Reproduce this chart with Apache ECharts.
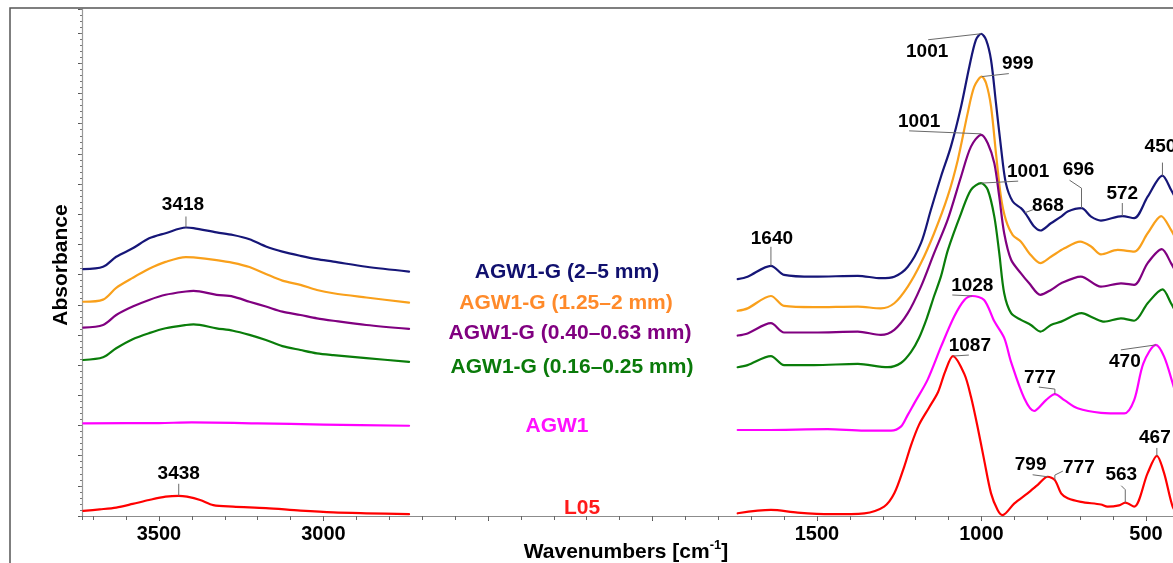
<!DOCTYPE html>
<html><head><meta charset="utf-8">
<script src="https://cdn.jsdelivr.net/npm/echarts@6/dist/echarts.min.js"></script>
<style>html,body{margin:0;padding:0;background:#fff}#c{width:1173px;height:563px}</style>
</head><body><div id="c"></div>
<script>
// ---------- DATA ----------
// Wavenumber grid used for the high-wavenumber region (cm-1)
const leftWn = [3730,3670,3630,3580,3530,3480,3418,3395,3325,3275,3225,3175,3125,3070,3020,2970,2870,2740];
const blueLeft   = [0.818,0.826,0.859,0.887,0.920,0.937,0.956,0.954,0.940,0.931,0.917,0.893,0.876,0.862,0.851,0.843,0.826,0.810];
const orangeLeft = [0.710,0.717,0.756,0.789,0.819,0.842,0.858,0.857,0.848,0.839,0.825,0.802,0.780,0.766,0.749,0.738,0.724,0.707];
const purpleLeft = [0.624,0.633,0.666,0.694,0.716,0.733,0.744,0.746,0.733,0.727,0.710,0.694,0.677,0.666,0.655,0.647,0.633,0.620];
const greenLeft  = [0.517,0.526,0.556,0.586,0.606,0.622,0.633,0.635,0.622,0.614,0.600,0.583,0.563,0.550,0.539,0.533,0.523,0.511];
const magentaLeft = [[3730,0.307],[3500,0.308],[3400,0.310],[3200,0.307],[3000,0.303],[2740,0.299]];
const redLeftWn  = [3730,3680,3630,3580,3530,3480,3440,3415,3375,3335,3275,3175,3070,2970,2870,2740];
const redLeftAbs = [0.017,0.022,0.028,0.040,0.053,0.064,0.067,0.064,0.053,0.036,0.031,0.026,0.018,0.012,0.009,0.006];

// Fingerprint region [wavenumber, absorbance (offset)]
const blueRight = [[1741,0.785],[1711,0.793],[1640,0.829],[1600,0.799],[1509,0.793],[1376,0.796],[1306,0.788],[1265,0.793],[1224,0.826],[1184,0.904],[1154,1.014],[1123,1.125],[1093,1.224],[1062,1.357],[1037,1.489],[1017,1.578],[1001,1.598],[986,1.578],[971,1.511],[956,1.368],[941,1.224],[926,1.103],[905,1.042],[880,1.020],[868,1.005],[860,0.992],[840,0.959],[821,0.946],[789,0.970],[758,0.992],[738,1.009],[696,1.020],[667,0.992],[637,0.979],[572,0.994],[536,0.987],[495,1.058],[450,1.128],[424,1.081],[400,1.031]];
const orangeRight = [[1741,0.680],[1711,0.688],[1640,0.729],[1600,0.696],[1509,0.692],[1376,0.694],[1306,0.688],[1265,0.705],[1224,0.760],[1184,0.838],[1144,0.937],[1103,1.058],[1072,1.180],[1042,1.335],[1022,1.423],[999,1.456],[986,1.434],[971,1.357],[956,1.202],[941,1.058],[926,0.981],[905,0.931],[880,0.909],[855,0.871],[821,0.838],[789,0.859],[748,0.887],[700,0.909],[667,0.893],[637,0.867],[586,0.882],[536,0.876],[495,0.937],[454,0.994],[424,0.948],[400,0.898]];
const purpleRight = [[1741,0.598],[1711,0.605],[1640,0.639],[1600,0.608],[1509,0.608],[1376,0.611],[1306,0.600],[1265,0.617],[1224,0.672],[1184,0.760],[1144,0.871],[1103,0.981],[1062,1.125],[1032,1.224],[1001,1.263],[981,1.235],[961,1.169],[946,1.058],[931,0.937],[910,0.849],[880,0.804],[855,0.771],[821,0.733],[789,0.749],[758,0.771],[698,0.793],[637,0.760],[576,0.771],[536,0.766],[495,0.838],[452,0.884],[424,0.838],[400,0.789]];
const greenRight = [[1741,0.493],[1711,0.500],[1640,0.530],[1600,0.500],[1509,0.500],[1376,0.504],[1285,0.493],[1245,0.507],[1214,0.544],[1190,0.590],[1166,0.656],[1144,0.729],[1123,0.795],[1102,0.882],[1062,1.003],[1032,1.081],[1001,1.103],[981,1.081],[961,0.992],[946,0.871],[931,0.738],[910,0.672],[880,0.650],[850,0.633],[821,0.611],[789,0.633],[758,0.644],[696,0.672],[657,0.655],[627,0.644],[576,0.655],[536,0.647],[495,0.705],[450,0.751],[424,0.705],[400,0.656]];
const magentaRight = [[1741,0.285],[1660,0.285],[1468,0.288],[1356,0.283],[1275,0.283],[1245,0.296],[1224,0.335],[1204,0.374],[1164,0.451],[1123,0.561],[1083,0.661],[1052,0.716],[1028,0.729],[992,0.716],[961,0.645],[931,0.590],[910,0.510],[870,0.390],[840,0.348],[804,0.384],[777,0.404],[748,0.384],[708,0.357],[637,0.342],[566,0.340],[536,0.384],[508,0.506],[470,0.567],[445,0.528],[419,0.440],[400,0.368]];
const redRight = [[1741,0.009],[1640,0.020],[1559,0.011],[1458,0.006],[1356,0.009],[1296,0.031],[1265,0.075],[1235,0.163],[1214,0.235],[1190,0.302],[1160,0.358],[1132,0.411],[1111,0.477],[1087,0.530],[1052,0.470],[1032,0.395],[1012,0.296],[992,0.186],[971,0.075],[951,0.020],[936,0.003],[900,0.042],[860,0.075],[829,0.103],[799,0.130],[777,0.119],[758,0.075],[738,0.059],[698,0.047],[637,0.038],[617,0.031],[582,0.035],[563,0.044],[536,0.031],[495,0.142],[467,0.199],[445,0.142],[419,0.031],[400,0.0]];

const seriesNames = ['AGW1-G (2–5 mm)','AGW1-G (1.25–2 mm)','AGW1-G (0.40–0.63 mm)','AGW1-G (0.16–0.25 mm)','AGW1','L05'];
// peak annotations: [series index, wavenumber, text]
const peakMarks = [
  [0,3418,'3418'],[5,3440,'3438'],[0,1640,'1640'],[0,1001,'1001'],[1,999,'999'],[2,1001,'1001'],[3,1001,'1001'],
  [0,868,'868'],[0,696,'696'],[0,572,'572'],[0,450,'450'],[4,1028,'1028'],[5,1087,'1087'],[4,777,'777'],
  [4,470,'470'],[5,799,'799'],[5,777,'777'],[5,563,'563'],[5,467,'467']
];
const xTickLabels = [500,1000,1500,3000,3500];

// ---------- STYLE / LAYOUT ----------
const colors = ['#161678','#f9a01b','#800080','#0a7d0a','#ff00ff','#ff0000'];
const labelColors = ['#10106e','#ff8a2a','#800080','#0a7a0a','#ff10ff','#ff1a1a'];
const labelPos = [[567,272],[566,303],[570,333],[572,367],[557,426],[582,508]];
// leader line offsets (px, relative to the peak) and text centre offsets
const peakLayout = [
  {lead:[[0,0],[0,-11]], txt:[-3,-23]},
  {lead:[[0,0],[0,-12]], txt:[0,-22]},
  {lead:[[0,0],[0,-19]], txt:[1,-27]},
  {lead:[[0,0],[-53,6]], txt:[-54,18]},
  {lead:[[0,0],[27,-3]], txt:[36,-13]},
  {lead:[[0,-1],[-72,-4]], txt:[-62,-13]},
  {lead:[[0,0],[37,-2]], txt:[47,-11]},
  {lead:[[0,0],[8,-3]], txt:[23,-7]},
  {lead:[[0,0],[0,-20],[-12,-28]], txt:[-3,-38]},
  {lead:[[0,0],[0,-13]], txt:[0,-22]},
  {lead:[[0,0],[0,-13]], txt:[-2,-29]},
  {lead:[[0,0],[-20,-1]], txt:[0,-10]},
  {lead:[[0,0],[16,-1]], txt:[17,-10]},
  {lead:[[0,0],[0,-5],[-16,-7]], txt:[-15,-16]},
  {lead:[[0,0],[-35,5]], txt:[-31,17]},
  {lead:[[0,0],[-15,-2]], txt:[-17,-12]},
  {lead:[[0,0],[0,-5],[8,-9]], txt:[24,-12]},
  {lead:[[0,0],[0,-13],[-4,-17]], txt:[-4,-28]},
  {lead:[[0,0],[0,-8]], txt:[-2,-18]}
];

// ---------- BUILD ----------
const zip = (w, a) => w.map((v, i) => [v, a[i]]);
const spectra = [
  zip(leftWn, blueLeft).concat([[2300,'-']], blueRight),
  zip(leftWn, orangeLeft).concat([[2300,'-']], orangeRight),
  zip(leftWn, purpleLeft).concat([[2300,'-']], purpleRight),
  zip(leftWn, greenLeft).concat([[2300,'-']], greenRight),
  magentaLeft.concat([[2300,'-']], magentaRight),
  zip(redLeftWn, redLeftAbs).concat([[2300,'-']], redRight)
];
function interp(pts, w) {
  for (let i = 0; i < pts.length - 1; i++) {
    const [w1, y1] = pts[i], [w2, y2] = pts[i + 1];
    if (typeof y1 !== 'number' || typeof y2 !== 'number') continue;
    if ((w - w1) * (w - w2) <= 0) return w1 === w2 ? y1 : y1 + (y2 - y1) * (w - w1) / (w2 - w1);
  }
  return 0;
}
const annData = peakMarks.map(m => [m[1], interp(spectra[m[0]], m[1])]);

const FONT = '"Liberation Sans", Arial, sans-serif';
const chart = echarts.init(document.getElementById('c'), null, {renderer: 'canvas'});

const lineSeries = spectra.map((d, i) => ({
  type: 'line', name: seriesNames[i], data: d, xAxisIndex: 0, yAxisIndex: 0,
  showSymbol: false, symbol: 'none', connectNulls: false, silent: true,
  smooth: 0.3,
  lineStyle: {color: colors[i], width: 2.2, join: 'round', cap: 'round'}, itemStyle: {color: colors[i]}, z: 2
}));

const annSeries = {
  type: 'custom', coordinateSystem: 'cartesian2d', xAxisIndex: 0, yAxisIndex: 0,
  silent: true, z: 5, clip: false, data: annData,
  renderItem: (params, api) => {
    const i = params.dataIndex;
    const p = api.coord([api.value(0), api.value(1)]);
    const L = peakLayout[i];
    return {type: 'group', children: [
      {type: 'polyline', shape: {points: L.lead.map(d => [p[0] + d[0], p[1] + d[1]])},
       style: {stroke: '#6a6a6a', lineWidth: 1, fill: 'none'}},
      {type: 'text', x: p[0] + L.txt[0], y: p[1] + L.txt[1],
       style: {text: peakMarks[i][2], font: 'bold 19px ' + FONT, fill: '#000', align: 'center', verticalAlign: 'middle'}}
    ]};
  }
};

const graphics = [
  {type: 'rect', shape: {x: 10, y: 8, width: 1200, height: 600}, style: {fill: 'none', stroke: '#555', lineWidth: 1.5}, z: 100},
  {type: 'text', x: 61, y: 265, rotation: Math.PI / 2,
   style: {text: 'Absorbance', font: 'bold 21px ' + FONT, fill: '#000', align: 'center', verticalAlign: 'middle'}},
  {type: 'text', x: 626, y: 551,
   style: {text: '{a|Wavenumbers [cm}{s|-1}{a|]}', align: 'center', verticalAlign: 'middle',
     rich: {a: {font: 'bold 21px ' + FONT, fill: '#000', color: '#000', lineHeight: 24, verticalAlign: 'bottom'},
            s: {font: 'bold 13px ' + FONT, fill: '#000', color: '#000', lineHeight: 24, verticalAlign: 'top'}}}}
].concat(seriesNames.map((n, i) => ({
  type: 'text', x: labelPos[i][0], y: labelPos[i][1],
  style: {text: n, font: 'bold 21px ' + FONT, fill: labelColors[i], align: 'center', verticalAlign: 'middle'}
})));

const XMAX = 3734, YMAX = 1.68;
chart.setOption({
  animation: false,
  backgroundColor: '#fff',
  grid: {left: 82, top: 9, width: 1228.5, height: 507, containLabel: false, outerBoundsMode: 'none'},
  xAxis: [
    {type: 'value', inverse: true, min: 0, max: XMAX, interval: 500, position: 'bottom',
     axisLine: {onZero: false, lineStyle: {color: '#8c8c8c', width: 1.2}},
     axisTick: {show: true, length: 5, lineStyle: {color: '#555'}},
     minorTick: {show: false}, splitLine: {show: false},
     axisLabel: {margin: 8, fontSize: 20, fontWeight: 'bold', color: '#000', fontFamily: FONT,
       showMinLabel: true, showMaxLabel: false,
       formatter: v => xTickLabels.indexOf(Math.round(v)) >= 0 ? String(Math.round(v)) : ''}},
    {type: 'value', inverse: true, min: 0, max: XMAX, interval: 100, position: 'bottom',
     axisLine: {show: false, onZero: false}, axisTick: {show: true, length: 4, lineStyle: {color: '#666'}},
     axisLabel: {show: false}, splitLine: {show: false}}
  ],
  yAxis: [
    {type: 'value', min: 0, max: YMAX, interval: 0.1, position: 'left',
     axisLine: {show: true, onZero: false, lineStyle: {color: '#9a9a9a', width: 1.2}},
     axisTick: {show: true, length: 4, lineStyle: {color: '#555'}},
     axisLabel: {show: false}, splitLine: {show: false}},
    {type: 'value', min: 0, max: YMAX, interval: 0.02, position: 'left',
     axisLine: {show: false, onZero: false}, axisTick: {show: true, length: 2, lineStyle: {color: '#777'}},
     axisLabel: {show: false}, splitLine: {show: false}}
  ],
  series: lineSeries.concat([annSeries]),
  graphic: graphics
});
</script></body></html>
